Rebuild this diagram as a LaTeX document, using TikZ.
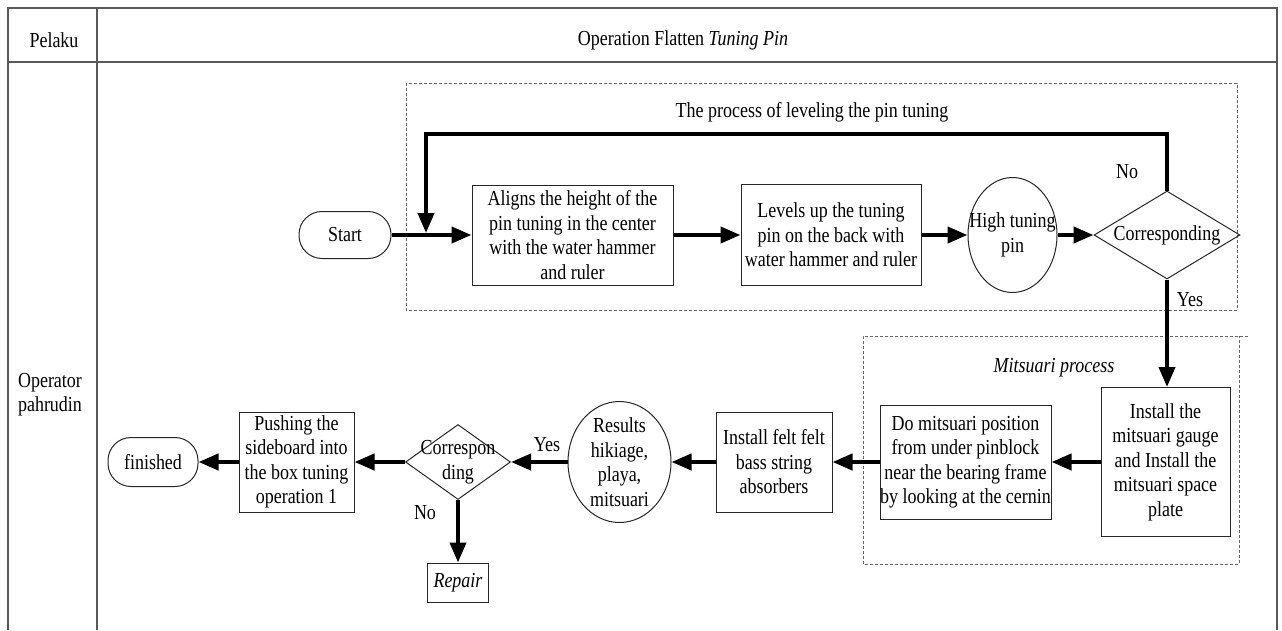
\documentclass[tikz,border=0pt]{standalone}
\usepackage{fontspec}
\setmainfont[FakeStretch=0.84]{Liberation Serif}
\usetikzlibrary{arrows.meta,shapes.geometric}
\begin{document}
\begin{tikzpicture}[x=1pt,y=-1pt,
  every node/.style={font=\fontsize{21.4}{24.5}\selectfont},
  frameline/.style={line width=1.4pt, draw=black!65},
  groupbox/.style={draw=black!60, line width=0.8pt, dash pattern=on 3pt off 2pt},
  procbox/.style={draw=black!85, line width=1pt, rectangle, align=center, inner sep=0pt},
  terminal/.style={draw=black!85, line width=1pt, rectangle, rounded corners=23pt, inner sep=0pt},
  decision/.style={draw=black!85, line width=1pt, diamond, inner sep=0pt},
  event/.style={draw=black!85, line width=1pt, ellipse, inner sep=0pt},
  caption/.style={align=center, inner sep=0pt},
  flow/.style={line width=4pt, -{Triangle[length=20pt,width=16pt]}}]

\useasboundingbox (0,0) rectangle (1282,630);

% swimlane frame
\draw[frameline] (8,630) -- (8,8) -- (1277,8) -- (1277,630);
\draw[frameline] (8,62) -- (1277,62);
\draw[frameline] (97,8) -- (97,630);
\node[caption] (hdrActor) at (54,40) {Pelaku};
\node[caption] (hdrTitle) at (683,40) {Operation Flatten \textit{Tuning Pin}};
\node[caption] (actor) at (50,394.5) {Operator\\pahrudin};

% group frames
\draw[groupbox] (406,83) rectangle (1237,310);
\node[caption] (grpLevel) at (812,112) {The process of leveling the pin tuning};
\draw[groupbox] (1248,336) -- (863,336) -- (863,564) -- (1239,564) -- (1239,336);
\node[caption] (grpMitsuari) at (1054,368) {\textit{Mitsuari process}};

% first row
\node[terminal, minimum width=92pt, minimum height=47pt] (start) at (345,235) {Start};
\node[procbox, minimum width=201pt, minimum height=100pt] (align) at (572.5,235)
  {Aligns the height of the\\pin tuning in the center\\with the water hammer\\and ruler};
\node[procbox, minimum width=180pt, minimum height=101pt] (level) at (831,235)
  {Levels up the tuning\\pin on the back with\\water hammer and ruler};
\node[event, minimum width=89pt, minimum height=115pt] (high) at (1012.5,235) {};
\node[caption] (highText) at (high) {High tuning\\pin};
\node[decision, minimum width=146pt, minimum height=88pt] (corr) at (1167,235) {};
\node[caption] (corrText) at (corr) {Corresponding};

% second row
\node[procbox, minimum width=129pt, minimum height=149pt] (gauge) at (1165.5,462)
  {Install the\\mitsuari gauge\\and Install the\\mitsuari space\\plate};
\node[procbox, minimum width=171pt, minimum height=114pt] (position) at (965.5,462)
  {Do mitsuari position\\from under pinblock\\near the bearing frame\\by looking at the cernin};
\node[procbox, minimum width=116pt, minimum height=100pt] (felt) at (774,462)
  {Install felt felt\\bass string\\absorbers};
\node[event, minimum width=103pt, minimum height=121pt] (results) at (619.5,462) {};
\node[caption] (resultsText) at (results) {Results\\hikiage,\\playa,\\mitsuari};
\node[decision, minimum width=105pt, minimum height=75pt] (check) at (458,462) {};
\node[caption] (checkText) at (check) {Correspon\\ding};
\node[procbox, minimum width=115pt, minimum height=100pt] (push) at (296.5,462)
  {Pushing the\\sideboard into\\the box tuning\\operation 1};
\node[terminal, minimum width=90pt, minimum height=49pt] (finish) at (153,462) {finished};
\node[procbox, minimum width=61pt, minimum height=39pt] (repair) at (458,582.5) {\textit{Repair}};

% connectors
\coordinate (join) at (426,233);
\coordinate (loopTop) at (426,134);
\draw[flow] (start.east) -- (align.west);
\draw[flow] (align.east) -- (level.west);
\draw[flow] (level.east) -- (high.west);
\draw[flow] (high.east) -- (corr.west);
\draw[flow] (corr.north) -- (corr.north |- loopTop) -- (loopTop) -- (join);
\draw[flow] (corr.south) -- (corr.south |- gauge.north);
\draw[flow] (gauge.west) -- (position.east);
\draw[flow] (position.west) -- (felt.east);
\draw[flow] (felt.west) -- (results.east);
\draw[flow] (results.west) -- (check.east);
\draw[flow] (check.west) -- (push.east);
\draw[flow] (push.west) -- (finish.east);
\draw[flow] (check.south) -- (repair.north);

% branch labels
\node[caption] (noTop) at (1127,172) {No};
\node[caption] (yesTop) at (1190,300) {Yes};
\node[caption] (yesBottom) at (547,445) {Yes};
\node[caption] (noBottom) at (425,513) {No};
\end{tikzpicture}
\end{document}
